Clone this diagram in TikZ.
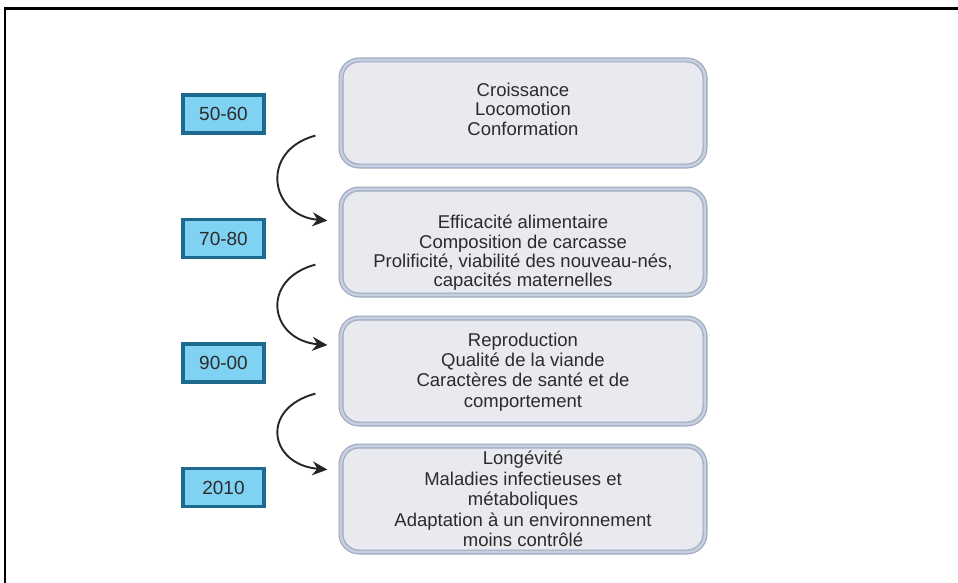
\documentclass[tikz,border=0pt]{standalone}
\usepackage{fontspec}
\setmainfont{Liberation Sans}
\usetikzlibrary{arrows.meta}
\definecolor{boxfill}{HTML}{E8EAEF}
\definecolor{boxline}{HTML}{9DA9BF}
\definecolor{boxgap}{HTML}{C6D0E0}
\definecolor{yearfill}{HTML}{80D2F2}
\definecolor{yearline}{HTML}{1D6A8E}
\definecolor{txt}{HTML}{2B2B2B}
\begin{document}
\begin{tikzpicture}[x=1pt,y=-1pt,
  mainbox/.style={draw=boxline, double=boxgap, double distance=2.6pt, line width=1.2pt,
    fill=boxfill, rounded corners=18pt, minimum width=364pt, minimum height=106pt, inner sep=0pt},
  boxtext/.style={align=center, text=txt, font=\fontsize{18.5}{19.4}\selectfont, inner sep=0pt},
  widetext/.style={boxtext, font=\fontsize{18.5}{20.4}\selectfont},
  yearbox/.style={draw=yearline, line width=3.8pt, fill=yearfill, minimum width=81pt,
    minimum height=38pt, text=txt, font=\fontsize{19}{20}\selectfont, inner sep=0pt},
  flow/.style={line width=1.9pt, draw=black!85, -{Stealth[length=15pt,width=14pt]}}]
\useasboundingbox (0,0) rectangle (958,583);
\fill[white] (0,0) rectangle (958,583);
\draw[line width=2.8pt] (5,583) -- (5,8.5) -- (958,8.5);

\node[mainbox] (b1) at (523,113) {};
\node[mainbox] (b2) at (523,242) {};
\node[mainbox] (b3) at (523,371) {};
\node[mainbox] (b4) at (523,499) {};
\node[boxtext] (t1) at ([yshift=4pt]b1.center) {Croissance\\Locomotion\\Conformation};
\node[boxtext] (t2) at ([yshift=-11pt]b2.center) {Efficacité alimentaire\\Composition de carcasse\\Prolificité, viabilité des nouveau-nés,\\capacités maternelles};
\node[widetext] (t3) at ([yshift=-1pt]b3.center) {Reproduction\\Qualité de la viande\\Caractères de santé et de\\comportement};
\node[widetext] (t4) at (b4.center) {Longévité\\Maladies infectieuses et\\métaboliques\\Adaptation à un environnement\\moins contrôlé};

\node[yearbox] (y1) at (223.5,114) {50-60};
\node[yearbox] (y2) at (223.5,238.5) {70-80};
\node[yearbox] (y3) at (223.5,363) {90-00};
\node[yearbox] (y4) at (223.5,487.5) {2010};

\coordinate (s1) at ([xshift=-25pt,yshift=31pt]b1.south west);
\coordinate (e1) at ([xshift=-13pt,yshift=-3pt]b2.west |- y2.north east);
\coordinate (s2) at ([xshift=-25pt,yshift=31pt]b2.south west);
\coordinate (e2) at ([xshift=-13pt,yshift=-3pt]b3.west |- y3.north east);
\coordinate (s3) at ([xshift=-25pt,yshift=31pt]b3.south west);
\coordinate (e3) at ([xshift=-13pt,yshift=-3pt]b4.west |- y4.north east);

\draw[flow] (s1) .. controls +(-56,15) and +(-58,-5) .. (e1);
\draw[flow] (s2) .. controls +(-56,15) and +(-58,-5) .. (e2);
\draw[flow] (s3) .. controls +(-56,15) and +(-58,-5) .. (e3);
\end{tikzpicture}
\end{document}
